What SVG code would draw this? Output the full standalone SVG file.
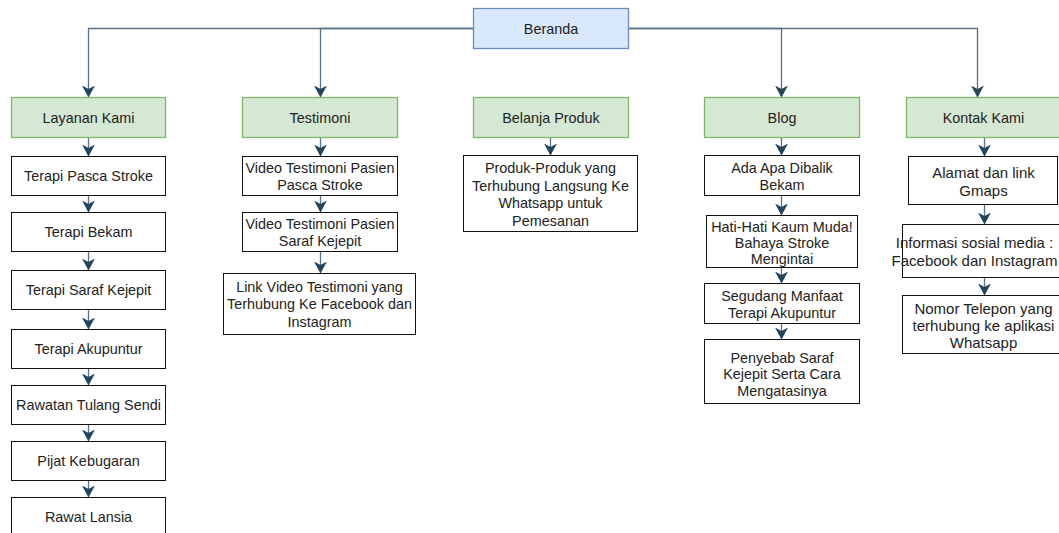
<svg xmlns="http://www.w3.org/2000/svg" width="1059" height="533" viewBox="0 0 1059 533">
<defs>
<style>
.t{font-family:"Liberation Sans",Arial,sans-serif;font-size:14.4px;fill:#222;text-anchor:middle}
.k{font-size:15px}
.w{fill:#fff;stroke:#111;stroke-width:1}
.g{fill:#d5e8d4;stroke:#82b366;stroke-width:1.3}
.b{fill:#dae8fc;stroke:#6c8ebf;stroke-width:1.3}
.c{fill:none;stroke:#56718b;stroke-width:1.3}
</style>
<marker id="ar" markerUnits="userSpaceOnUse" viewBox="0 0 12 13" markerWidth="12" markerHeight="13" refX="12" refY="6.5" orient="auto">
<path d="M0,0 L12,6.5 L0,13 L3.5,6.5 Z" fill="#23445d"/>
</marker>
</defs>
<rect width="1059" height="533" fill="#fff"/>
<g transform="translate(0.5,0.5)">
<g id="connectors">
<path class="c" d="M473,28 H88 V97" marker-end="url(#ar)"/>
<path class="c" d="M473,28 H320 V97" marker-end="url(#ar)"/>
<path class="c" d="M628,28 H781 V97" marker-end="url(#ar)"/>
<path class="c" d="M628,28 H977 V97" marker-end="url(#ar)"/>
<path class="c" d="M88,137 V156" marker-end="url(#ar)"/>
<path class="c" d="M88,195 V212" marker-end="url(#ar)"/>
<path class="c" d="M88,251 V270" marker-end="url(#ar)"/>
<path class="c" d="M88,309 V329" marker-end="url(#ar)"/>
<path class="c" d="M88,368 V385" marker-end="url(#ar)"/>
<path class="c" d="M88,424 V441" marker-end="url(#ar)"/>
<path class="c" d="M88,480 V497" marker-end="url(#ar)"/>
<path class="c" d="M320,137 V156" marker-end="url(#ar)"/>
<path class="c" d="M320,195 V212" marker-end="url(#ar)"/>
<path class="c" d="M320,251 V273" marker-end="url(#ar)"/>
<path class="c" d="M550,137 V155" marker-end="url(#ar)"/>
<path class="c" d="M781,137 V155" marker-end="url(#ar)"/>
<path class="c" d="M781,195 V215" marker-end="url(#ar)"/>
<path class="c" d="M781,267 V283" marker-end="url(#ar)"/>
<path class="c" d="M781,323 V339" marker-end="url(#ar)"/>
<path class="c" d="M984,137 V156" marker-end="url(#ar)"/>
<path class="c" d="M984,204 V224" marker-end="url(#ar)"/>
<path class="c" d="M984,277 V295" marker-end="url(#ar)"/>
</g>

<g id="beranda"><rect class="b" x="473" y="8" width="155" height="40"/><text class="t" x="550.5" y="33">Beranda</text></g>

<g id="layanan"><rect class="g" x="11" y="97" width="154" height="40"/><text class="t" x="88" y="122">Layanan Kami</text></g>
<g id="testimoni"><rect class="g" x="242" y="97" width="155" height="40"/><text class="t" x="319.5" y="122">Testimoni</text></g>
<g id="belanja"><rect class="g" x="473" y="97" width="155" height="40"/><text class="t" x="550.5" y="122">Belanja Produk</text></g>
<g id="blog"><rect class="g" x="704" y="97" width="155" height="40"/><text class="t" x="781.5" y="122">Blog</text></g>
<g id="kontak"><rect class="g" x="906" y="97" width="155" height="40"/><text class="t" x="983" y="122">Kontak Kami</text></g>

<g id="l1"><rect class="w" x="11" y="156" width="154" height="39"/><text class="t" x="88" y="180">Terapi Pasca Stroke</text></g>
<g id="l2"><rect class="w" x="11" y="212" width="154" height="39"/><text class="t" x="88" y="236">Terapi Bekam</text></g>
<g id="l3"><rect class="w" x="11" y="270" width="154" height="39"/><text class="t" x="88" y="294">Terapi Saraf Kejepit</text></g>
<g id="l4"><rect class="w" x="11" y="329" width="154" height="39"/><text class="t" x="88" y="353">Terapi Akupuntur</text></g>
<g id="l5"><rect class="w" x="11" y="385" width="154" height="39"/><text class="t" x="88" y="409">Rawatan Tulang Sendi</text></g>
<g id="l6"><rect class="w" x="11" y="441" width="154" height="39"/><text class="t" x="88" y="465">Pijat Kebugaran</text></g>
<g id="l7"><rect class="w" x="11" y="497" width="154" height="39"/><text class="t" x="88" y="521">Rawat Lansia</text></g>

<g id="t1"><rect class="w" x="242" y="156" width="155" height="39"/><text class="t" x="319.5" y="172">Video Testimoni Pasien</text><text class="t" x="319.5" y="189">Pasca Stroke</text></g>
<g id="t2"><rect class="w" x="242" y="212" width="155" height="39"/><text class="t" x="319.5" y="228">Video Testimoni Pasien</text><text class="t" x="319.5" y="245">Saraf Kejepit</text></g>
<g id="t3"><rect class="w" x="223" y="273" width="192" height="61"/><text class="t" x="319" y="291">Link Video Testimoni yang</text><text class="t" x="319" y="308">Terhubung Ke Facebook dan</text><text class="t" x="319" y="326">Instagram</text></g>

<g id="p1"><rect class="w" x="463" y="155" width="174" height="76"/><text class="t" x="550" y="172">Produk-Produk yang</text><text class="t" x="550" y="190">Terhubung Langsung Ke</text><text class="t" x="550" y="207">Whatsapp untuk</text><text class="t" x="550" y="225">Pemesanan</text></g>

<g id="b1"><rect class="w" x="704" y="155" width="155" height="40"/><text class="t" x="781.5" y="172">Ada Apa Dibalik</text><text class="t" x="781.5" y="189">Bekam</text></g>
<g id="b2"><rect class="w" x="706" y="215" width="151" height="52"/><text class="t" x="781.5" y="231">Hati-Hati Kaum Muda!</text><text class="t" x="781.5" y="247">Bahaya Stroke</text><text class="t" x="781.5" y="263">Mengintai</text></g>
<g id="b3"><rect class="w" x="704" y="283" width="155" height="40"/><text class="t" x="781.5" y="300">Segudang Manfaat</text><text class="t" x="781.5" y="317">Terapi Akupuntur</text></g>
<g id="b4"><rect class="w" x="704" y="339" width="155" height="64"/><text class="t" x="781.5" y="362">Penyebab Saraf</text><text class="t" x="781.5" y="378">Kejepit Serta Cara</text><text class="t" x="781.5" y="395">Mengatasinya</text></g>

<g id="k1"><rect class="w" x="908" y="156" width="149" height="48"/><text class="t k" x="983" y="177">Alamat dan link</text><text class="t k" x="983" y="195">Gmaps</text></g>
<g id="k2"><rect class="w" x="902" y="224" width="164" height="53"/><text class="t k" x="974" y="247">Informasi sosial media :</text><text class="t k" x="974" y="265">Facebook dan Instagram</text></g>
<g id="k3"><rect class="w" x="902" y="295" width="164" height="58"/><text class="t k" x="983" y="313">Nomor Telepon yang</text><text class="t k" x="983" y="330">terhubung ke aplikasi</text><text class="t k" x="983" y="347">Whatsapp</text></g>
</g>
</svg>
